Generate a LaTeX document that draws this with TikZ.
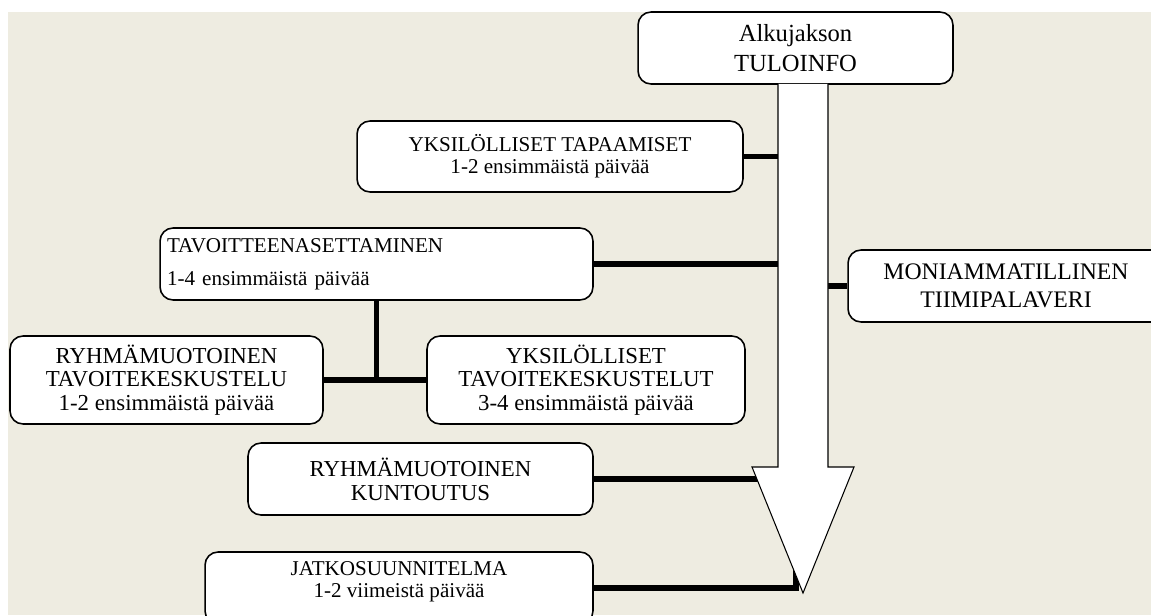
\documentclass[tikz,border=0pt]{standalone}
\usepackage{fontspec}
\setmainfont{Liberation Serif}
\definecolor{paper}{HTML}{EEECE1}

\begin{document}
\begin{tikzpicture}[x=0.02cm, y=-0.02cm, stage/.style={draw, line width=0.9pt, fill=white, rounded corners=0.26cm, minimum height=1.44cm, inner sep=0.14cm, align=center, font=\fontsize{12}{12.5}\selectfont}, link/.style={line width=3.4pt}, flow/.style={draw, line width=0.6pt, fill=white}]

\useasboundingbox (0,0) rectangle (1151,615);
\fill[paper] (8,12) rectangle (1151,615);

\node[stage, minimum width=6.3cm, font=\fontsize{14}{17}\selectfont] (info) at (795.5,48) {Alkujakson\\TULOINFO};
\node[stage, minimum width=7.72cm, minimum height=1.42cm] (tapaamiset) at (550,156.5) {YKSILÖLLISET TAPAAMISET\\1-2 ensimmäistä päivää};
\node[stage, text width=8.38cm, align=left, font=\fontsize{12}{18.7}\selectfont] (asettaminen) at (376.5,264) {TAVOITTEENASETTAMINEN\\1-4 ensimmäistä päivää};
\node[stage, minimum width=6.32cm, font=\fontsize{13.5}{16}\selectfont] (moni) at (1006,286) {MONIAMMATILLINEN\\TIIMIPALAVERI};
\node[stage, minimum width=6.26cm, minimum height=1.76cm, font=\fontsize{13}{13.5}\selectfont] (ryhmakesk) at (166.5,380) {RYHMÄMUOTOINEN\\TAVOITEKESKUSTELU\\1-2 ensimmäistä päivää};
\node[stage, minimum width=6.36cm, minimum height=1.76cm, font=\fontsize{13}{13.5}\selectfont] (yksikesk) at (586,380) {YKSILÖLLISET\\TAVOITEKESKUSTELUT\\3-4 ensimmäistä päivää};
\node[stage, minimum width=6.9cm, font=\fontsize{13}{13.5}\selectfont] (kuntoutus) at (420.5,479) {RYHMÄMUOTOINEN\\KUNTOUTUS};
\node[stage, minimum width=7.76cm, text depth=0.35cm] (jatko) at (399,588) {JATKOSUUNNITELMA\\1-2 viimeistä päivää};

% shaft edges of the big arrow
\coordinate (shaftL) at (778,84);
\coordinate (shaftR) at (828,84);

\draw[link] (tapaamiset.east) -- (tapaamiset.east -| shaftL);
\draw[link] (asettaminen.east) -- (asettaminen.east -| shaftL);
\draw[link] (moni.west) -- (moni.west -| shaftR);
\draw[link] (asettaminen.south) -- (asettaminen.south |- ryhmakesk.east);
\draw[link] (ryhmakesk.east) -- (yksikesk.west);
\draw[link] (kuntoutus.east) -- (kuntoutus.east -| shaftL);
\draw[link] (jatko.east) -| (796,540);

\draw[flow] (shaftL) -- (778,467) -- (752,467) -- (803,593) -- (854,467) -- (828,467) -- (shaftR);
\end{tikzpicture}
\end{document}
